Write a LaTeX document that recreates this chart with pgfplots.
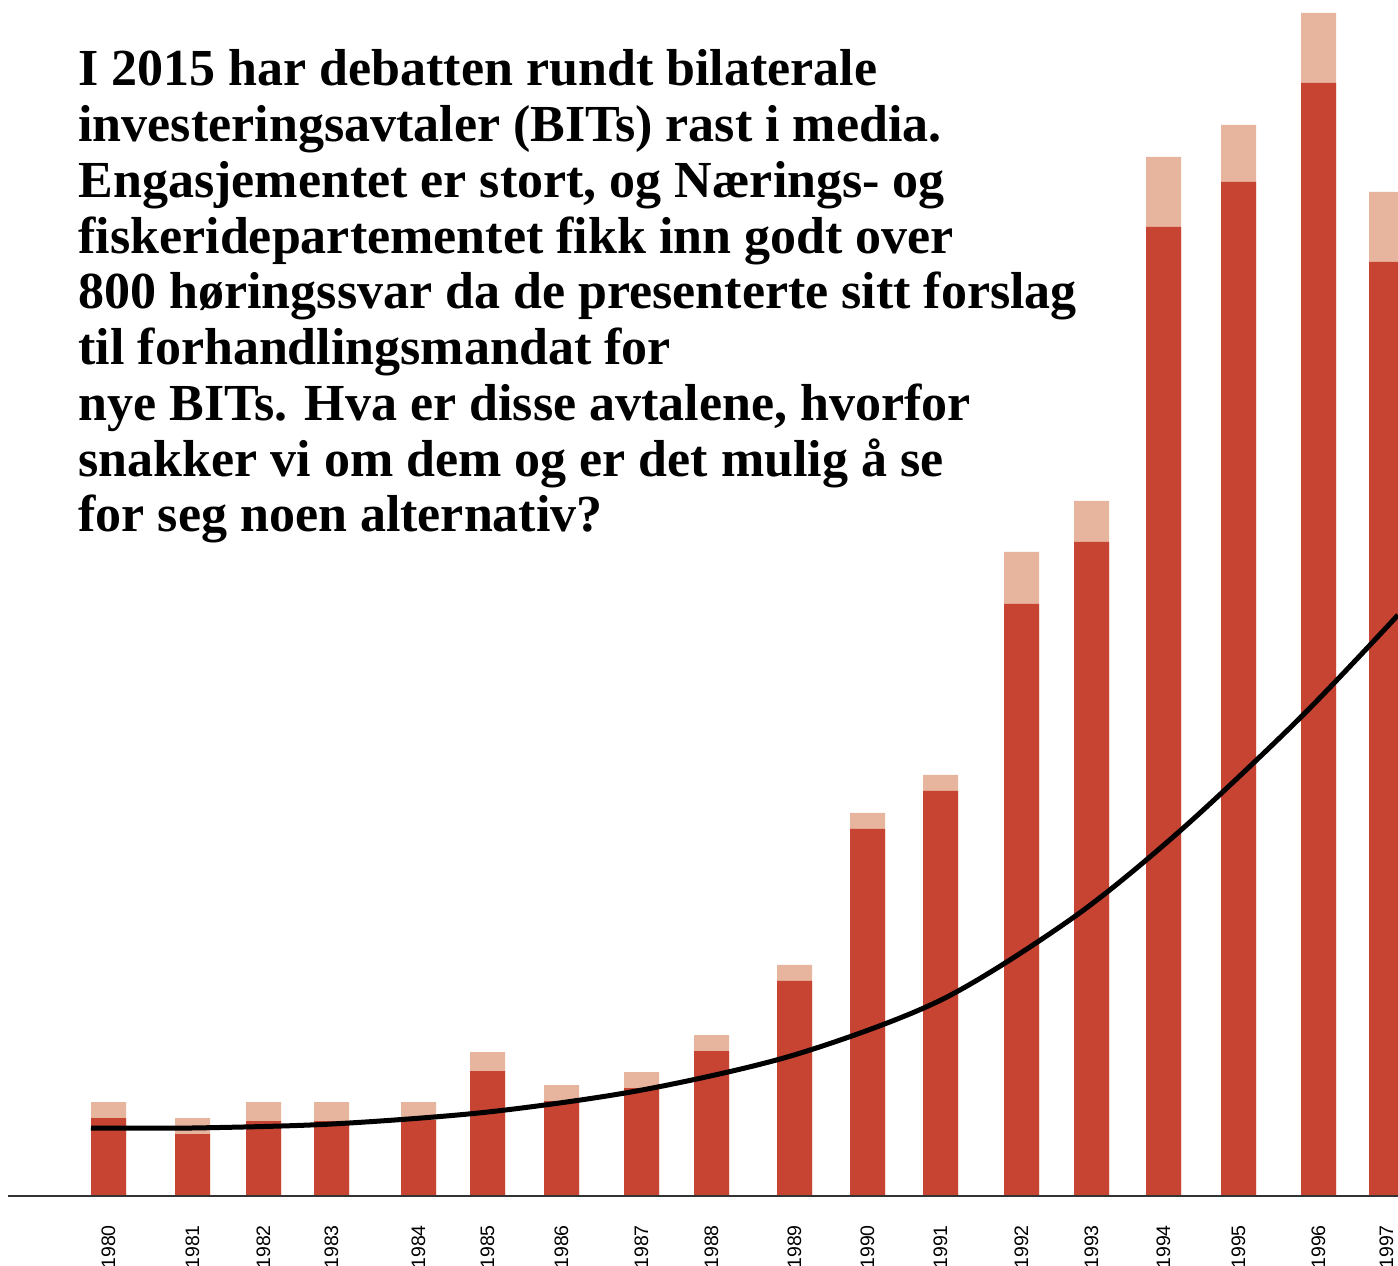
\documentclass[border=0pt]{standalone}
\usepackage{fontspec}
\setmainfont{Liberation Serif}
\newfontfamily\tickfont{Liberation Sans}
\usepackage{pgfplots}
\pgfplotsset{compat=1.18}
\definecolor{darkred}{HTML}{C74332}
\definecolor{lightsal}{HTML}{E7B49D}
\begin{document}
\begin{tikzpicture}
\begin{axis}[
  at={(0,0)}, anchor=south west,
  scale only axis, width=559.2pt, height=478.4pt,
  xmin=0, xmax=1398, ymin=0, ymax=1196,
  axis line style={draw=none},
  ytick=\empty,
  xtick={108.5,192.5,263.5,331.5,418.5,487.5,561.5,641.5,711.5,794.5,867.5,940.5,1021.5,1091.5,1163.5,1238.5,1318.5,1386.5},
  xticklabels={1980,1981,1982,1983,1984,1985,1986,1987,1988,1989,1990,1991,1992,1993,1994,1995,1996,1997},
  major tick length=0pt,
  xticklabel style={rotate=90, anchor=east, font=\tickfont\fontsize{7.8}{8}\selectfont, inner sep=0pt},
  xticklabel shift=11.5pt,
  clip=true,
]
% total (dark + light)
\addplot[ybar, bar width=14pt, bar shift=0pt, fill=lightsal, draw=none] coordinates {
(108.5,94) (192.5,78) (263.5,94) (331.5,94) (418.5,94) (487.5,144) (561.5,111) (641.5,124) (711.5,161) (794.5,231) (867.5,383) (940.5,421) (1021.5,644) (1091.5,695) (1163.5,1039) (1238.5,1071) (1318.5,1183) (1386.5,1004)
};
% dark part
\addplot[ybar, bar width=14pt, bar shift=0pt, fill=darkred, draw=none] coordinates {
(108.5,78) (192.5,62) (263.5,75) (331.5,75) (418.5,76) (487.5,125) (561.5,95) (641.5,108) (711.5,145) (794.5,215) (867.5,367) (940.5,405) (1021.5,592) (1091.5,654) (1163.5,969) (1238.5,1014) (1318.5,1113) (1386.5,934)
};
\draw[black!80, line width=0.8pt] (axis cs:8,0) -- (axis cs:1398,0);
% trend curve
\addplot[black, line width=2pt, smooth] coordinates {
(91,68) (192,68) (332,72) (488,84) (642,106) (794,141) (941,196) (1074,279) (1181,366) (1301,479) (1398,581)
};
\begin{scope}[every node/.style={anchor=base west, inner sep=0pt, font=\bfseries\fontsize{20.8}{22.3}\selectfont}]
\node at (axis cs:78,1110) {I 2015 har debatten rundt bilaterale};
\node at (axis cs:78,1054.25) {investeringsavtaler (BITs) rast i media.};
\node at (axis cs:78,998.5) {Engasjementet er stort, og Nærings- og};
\node at (axis cs:78,942.75) {fiskeridepartementet fikk inn godt over};
\node at (axis cs:78,887) {800 høringssvar da de presenterte sitt forslag};
\node at (axis cs:78,831.25) {til forhandlingsmandat for};
\node at (axis cs:78,775.5) {nye BITs. Hva er disse avtalene, hvorfor};
\node at (axis cs:78,719.75) {snakker vi om dem og er det mulig å se};
\node at (axis cs:78,664) {for seg noen alternativ?};
\end{scope}
\end{axis}
\pgfresetboundingbox
\path[use as bounding box] (0,-27.6pt) rectangle (559.2pt,478.4pt);
\end{tikzpicture}
\end{document}
